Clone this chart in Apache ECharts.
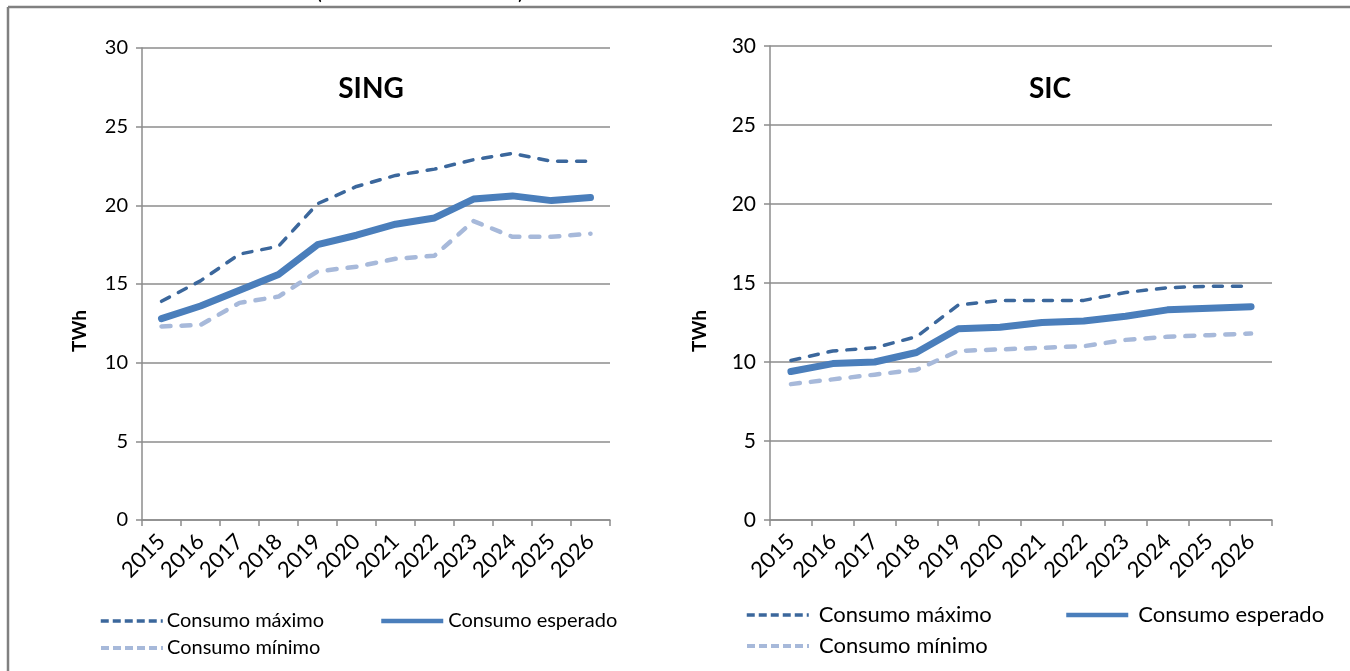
<!DOCTYPE html>
<html>
<head>
<meta charset="utf-8">
<title>Consumo SING / SIC</title>
<script src="https://cdn.jsdelivr.net/npm/echarts@6/dist/echarts.min.js"></script>
<style>
  html, body { margin: 0; padding: 0; background: #ffffff; }
  #chart { width: 1350px; height: 671px; }
</style>
</head>
<body>
<div id="chart"></div>
<script>
// Years on the horizontal axis
const years = ['2015', '2016', '2017', '2018', '2019', '2020', '2021', '2022', '2023', '2024', '2025', '2026'];

// Vertical axis ticks (TWh)
const yTicks = [0, 5, 10, 15, 20, 25, 30];

// SING consumption scenarios, TWh
const singMax = [13.9, 15.2, 16.9, 17.4, 20.1, 21.2, 21.9, 22.3, 22.9, 23.3, 22.8, 22.8];
const singEsp = [12.8, 13.6, 14.6, 15.6, 17.5, 18.1, 18.8, 19.2, 20.4, 20.6, 20.3, 20.5];
const singMin = [12.3, 12.4, 13.8, 14.2, 15.8, 16.1, 16.6, 16.8, 19.0, 18.0, 18.0, 18.2];

// SIC consumption scenarios, TWh
const sicMax = [10.1, 10.7, 10.9, 11.6, 13.6, 13.9, 13.9, 13.9, 14.4, 14.7, 14.8, 14.8];
const sicEsp = [9.4, 9.9, 10.0, 10.6, 12.1, 12.2, 12.5, 12.6, 12.9, 13.3, 13.4, 13.5];
const sicMin = [8.6, 8.9, 9.2, 9.5, 10.7, 10.8, 10.9, 11.0, 11.4, 11.6, 11.7, 11.8];

const seriesNames = ['Consumo máximo', 'Consumo esperado', 'Consumo mínimo'];

const FONT = 'Lato';
const C_MAX = '#3b679c';
const C_ESP = '#4a7ebb';
const C_MIN = '#a7b9da';
const GRID_C = '#8c8c8c';

function xAxisFor(idx, fs) {
  return {
    type: 'category', gridIndex: idx, data: years, boundaryGap: true,
    axisLine: { lineStyle: { color: GRID_C, width: 1.5 } },
    axisTick: { show: true, length: 6, lineStyle: { color: GRID_C, width: 1.5 } },
    axisLabel: { rotate: 45, margin: 18, color: '#000', fontFamily: FONT, fontSize: fs, interval: 0 }
  };
}
function yAxisFor(idx, fs) {
  return {
    type: 'value', gridIndex: idx, min: yTicks[0], max: yTicks[yTicks.length - 1], interval: 5,
    axisLine: { show: true, lineStyle: { color: GRID_C, width: 1.5 } },
    axisTick: { show: true, length: 6, lineStyle: { color: GRID_C, width: 1.5 } },
    splitLine: { lineStyle: { color: GRID_C, width: 1.5 } },
    axisLabel: { margin: 14, color: '#000', fontFamily: FONT, fontSize: fs }
  };
}
function lineSeries(name, data, idx, color, width, dash) {
  return {
    name: name + (idx ? ' ' : ''), type: 'line', xAxisIndex: idx, yAxisIndex: idx, data: data,
    symbol: 'none', smooth: false, z: dash ? 2 : 3,
    lineStyle: { color: color, width: width, type: dash || 'solid', cap: 'round', join: 'round' },
    itemStyle: { color: color }
  };
}
function legendItem(name, left, top, fs, lw, dash, gap) {
  return {
    data: [name], left: left, top: top, orient: 'horizontal',
    itemWidth: 62, itemHeight: 10, itemGap: 6, padding: 0,
    itemStyle: { opacity: 0 },
    lineStyle: { width: lw, type: dash || 'solid', cap: 'butt' },
    textStyle: { fontFamily: FONT, fontSize: fs, color: '#000', padding: [0, 0, 0, gap - 5] },
    selectedMode: false
  };
}

const chart = echarts.init(document.getElementById('chart'), null, { renderer: 'canvas' });

chart.setOption({
  animation: false,
  backgroundColor: '#ffffff',
  title: [
    { text: 'SING', left: 366, top: 70, textAlign: 'center',
      textStyle: { fontFamily: FONT, fontWeight: 'bold', fontSize: 28, color: '#000' } },
    { text: 'SIC', left: 1045, top: 70, textAlign: 'center',
      textStyle: { fontFamily: FONT, fontWeight: 'bold', fontSize: 28, color: '#000' } }
  ],
  grid: [
    { left: 142, right: 740, top: 48, bottom: 151 },
    { left: 770, right: 78, top: 46, bottom: 151 }
  ],
  xAxis: [xAxisFor(0, 22), xAxisFor(1, 22)],
  yAxis: [yAxisFor(0, 20), yAxisFor(1, 21)],
  legend: [
    legendItem(seriesNames[0], 99, 611, 20, 3.5, [8, 4], 4),
    legendItem(seriesNames[1], 379, 611, 20, 4.5, null, 5),
    legendItem(seriesNames[2], 99, 638, 20, 4, [8, 4], 4),
    legendItem(seriesNames[0] + ' ', 745, 604, 22, 3.5, [8, 4], 10),
    legendItem(seriesNames[1] + ' ', 1064, 604, 22, 4.5, null, 10),
    legendItem(seriesNames[2] + ' ', 745, 635, 22, 4, [8, 4], 10)
  ],
  series: [
    lineSeries(seriesNames[0], singMax, 0, C_MAX, 3.5, [9, 10]),
    lineSeries(seriesNames[1], singEsp, 0, C_ESP, 7, null),
    lineSeries(seriesNames[2], singMin, 0, C_MIN, 4.5, [9, 11]),
    lineSeries(seriesNames[0], sicMax, 1, C_MAX, 3.5, [9, 10]),
    lineSeries(seriesNames[1], sicEsp, 1, C_ESP, 7, null),
    lineSeries(seriesNames[2], sicMin, 1, C_MIN, 4.5, [9, 11])
  ],
  graphic: [
    // frame
    { type: 'line', shape: { x1: 8, y1: 7, x2: 1350, y2: 7 }, style: { stroke: '#808080', lineWidth: 2.5 } },
    { type: 'line', shape: { x1: 8, y1: 7, x2: 8, y2: 671 }, style: { stroke: '#808080', lineWidth: 2.5 } },
    // axis titles
    { type: 'text', x: 80, y: 331, rotation: Math.PI / 2,
      style: { text: 'TWh', fontFamily: FONT, fontWeight: 'bold', fontSize: 19, fill: '#000', align: 'center', verticalAlign: 'middle' } },
    { type: 'text', x: 700, y: 331, rotation: Math.PI / 2,
      style: { text: 'TWh', fontFamily: FONT, fontWeight: 'bold', fontSize: 19, fill: '#000', align: 'center', verticalAlign: 'middle' } },
    // heading brackets cut by the top edge
    { type: 'text', x: 316, y: -19, style: { text: '(', fontFamily: FONT, fontSize: 22, fill: '#000' } },
    { type: 'text', x: 518, y: -19, style: { text: ')', fontFamily: FONT, fontSize: 22, fill: '#000' } }
  ]
});
</script>
</body>
</html>
